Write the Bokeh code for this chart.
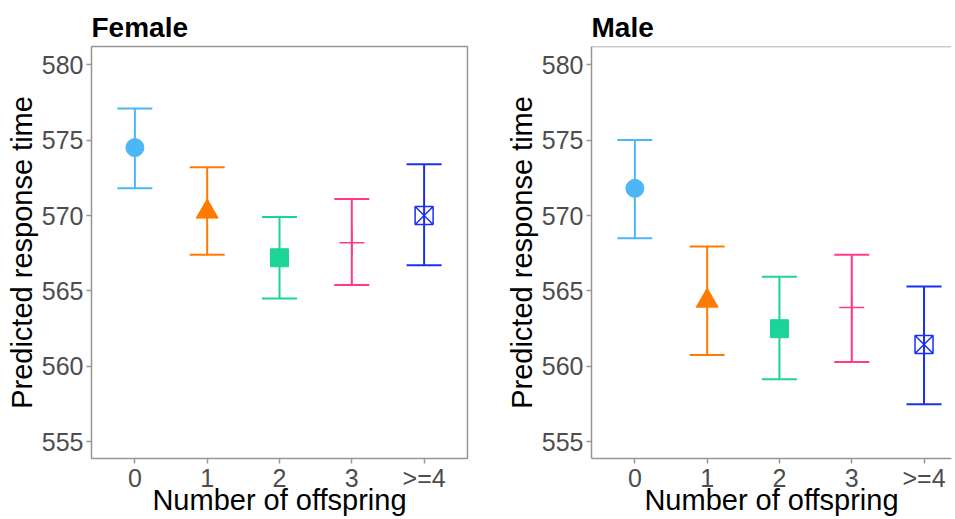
from bokeh.plotting import figure
from bokeh.models import Range1d, FixedTicker, Whisker, TeeHead, ColumnDataSource, Span
from bokeh.core.properties import field
from bokeh.layouts import row
from bokeh.embed import file_html
from bokeh.resources import INLINE

# ---- data ----
categories = ["0", "1", "2", "3", ">=4"]
positions = [0, 1, 2, 3, 4]
female_mean = [574.5, 570.25, 567.2, 568.2, 570.0]
female_upper = [577.1, 573.2, 569.9, 571.1, 573.4]
female_lower = [571.8, 567.4, 564.5, 565.4, 566.7]
male_mean = [571.8, 564.35, 562.5, 563.9, 561.45]
male_upper = [575.0, 567.95, 565.95, 567.4, 565.3]
male_lower = [568.5, 560.75, 559.15, 560.3, 557.5]
y_ticks = [555, 560, 565, 570, 575, 580]

# ---- styles ----
colors = ["#4DB6F7", "#FF7A00", "#1CD498", "#FF3A8A", "#1A2FEF"]
markers = ["circle", "triangle", "square", "cross", "square_x"]
sizes = [18, 22, 18, 25, 18]
fill_alphas = [1, 1, 1, 0, 0]
marker_lw = [1, 1, 1, 1.5, 1.5]

FONT = "Liberation Sans"
BORDER = "#969696"
Y_START, Y_END = 553.9, 581.2


def make_panel(title, mean, upper, lower, width, border_left, border_right, x_end, full_box):
    p = figure(width=width, height=518,
               x_range=Range1d(-0.6, x_end), y_range=Range1d(Y_START, Y_END),
               output_backend="svg", toolbar_location=None, title=title,
               min_border_left=border_left, min_border_right=border_right,
               min_border_top=46, min_border_bottom=55)
    p.grid.visible = False
    p.background_fill_color = "white"
    p.border_fill_color = "white"

    p.title.text_font = FONT
    p.title.text_font_size = "28px"
    p.title.text_font_style = "bold"
    p.title.text_color = "black"
    p.title.align = "left"
    p.title.offset = 0
    p.title.standoff = 8

    if full_box:
        p.outline_line_color = BORDER
        p.outline_line_width = 1.5
        p.axis.axis_line_color = None
    else:
        p.outline_line_color = None
        p.axis.axis_line_color = BORDER
        p.axis.axis_line_width = 1.5
        p.add_layout(Span(location=Y_END, dimension="width",
                          line_color=BORDER, line_width=1.5))

    for ax in (p.xaxis[0], p.yaxis[0]):
        ax.major_label_text_font = FONT
        ax.major_label_text_font_size = "25px"
        ax.major_label_text_color = "#4d4d4d"
        ax.axis_label_text_font = FONT
        ax.axis_label_text_font_size = "29px"
        ax.axis_label_text_font_style = "normal"
        ax.axis_label_text_color = "black"
        ax.major_tick_in = 0
        ax.major_tick_out = 5
        ax.major_tick_line_color = BORDER
        ax.major_tick_line_width = 1.5
        ax.minor_tick_line_color = None

    p.xaxis.major_label_standoff = 0
    p.xaxis.axis_label_standoff = -11
    p.yaxis.major_label_standoff = 3
    p.yaxis.axis_label_standoff = 1

    p.xaxis.ticker = FixedTicker(ticks=positions)
    p.xaxis.major_label_overrides = {pos: cat for pos, cat in zip(positions, categories)}
    p.xaxis.axis_label = "Number of offspring"
    p.yaxis.ticker = FixedTicker(ticks=y_ticks)
    p.yaxis.axis_label = "Predicted response time"

    src = ColumnDataSource(dict(x=positions, mean=mean, upper=upper, lower=lower,
                                color=colors, marker=markers, size=sizes,
                                fa=fill_alphas, lw=marker_lw))
    w = Whisker(base="x", upper="upper", lower="lower", source=src, dimension="height",
                line_color=field("color"), line_width=2, level="underlay",
                upper_head=TeeHead(size=35, line_color=field("color"), line_width=2),
                lower_head=TeeHead(size=35, line_color=field("color"), line_width=2))
    p.add_layout(w)
    p.scatter(x="x", y="mean", source=src, marker="marker", size="size",
              fill_color="color", fill_alpha="fa", line_color="color", line_width="lw")
    return p


female = make_panel("Female", female_mean, female_upper, female_lower,
                    width=478, border_left=91, border_right=11, x_end=4.6, full_box=True)
male = make_panel("Male", male_mean, male_upper, male_lower,
                  width=475, border_left=113, border_right=2, x_end=4.38, full_box=False)

layout = row(female, male)
open("out.html", "w").write(file_html(layout, INLINE))
